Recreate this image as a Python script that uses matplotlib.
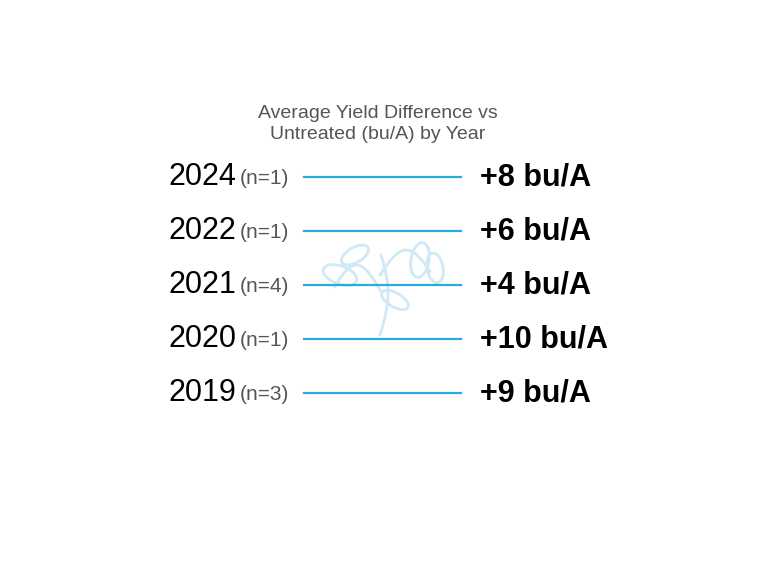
import matplotlib
matplotlib.use("Agg")
import matplotlib.pyplot as plt
import numpy as np

years = ["2024", "2022", "2021", "2020", "2019"]
counts = [1, 1, 4, 1, 3]
yield_diff = [8, 6, 4, 10, 9]
title = "Average Yield Difference vs\nUntreated (bu/A) by Year"

fam = ["Liberation Sans Narrow", "Liberation Sans", "DejaVu Sans"]
fig = plt.figure(figsize=(7.74, 5.82), dpi=100)
ax = fig.add_axes([0, 0, 1, 1])
ax.set_xlim(0, 774); ax.set_ylim(582, 0); ax.axis("off")

# faint decorative plant
pc = "#cfe9f7"
t = np.linspace(0, 1, 50)
ax.plot(380 + 8*np.sin(t*3), 335 - t*80, color=pc, lw=2)
ax.plot(380 + t*50, 275 - 25*np.sin(t*3), color=pc, lw=2)
ax.plot(380 - t*45, 290 - 25*np.sin(t*3), color=pc, lw=2)
for cx, cy, w, h, a in [(340, 275, 35, 18, 20), (355, 255, 30, 15, -30), (420, 260, 18, 35, 10), (435, 268, 16, 30, -10), (395, 300, 30, 14, 30)]:
    from matplotlib.patches import Ellipse
    ax.add_patch(Ellipse((cx, cy), w, h, angle=a, fill=False, ec=pc, lw=2))

ax.text(378, 124, title, ha="center", va="center", fontsize=14, color="#555555",
        family=fam, linespacing=1.3)

y0, dy = 177, 54
for i, (yr, n, v) in enumerate(zip(years, counts, yield_diff)):
    y = y0 + i*dy
    ax.text(236, y, yr, ha="right", va="center", fontsize=22, color="black", family=fam)
    ax.text(240, y + 1, f"(n={n})", ha="left", va="center", fontsize=15, color="#555555", family=fam)
    ax.plot([304, 461], [y, y], color="#29abe2", lw=1.6)
    ax.text(480, y, f"+{v} bu/A", ha="left", va="center", fontsize=22, fontweight="bold",
            color="black", family=fam)

fig.savefig("out.png", dpi=100)
